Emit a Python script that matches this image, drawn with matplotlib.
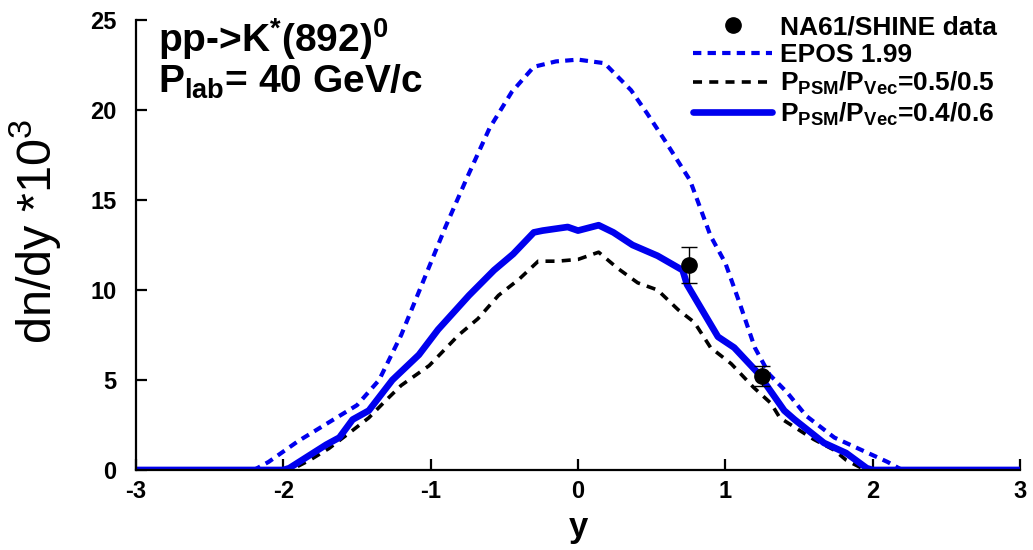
import matplotlib
matplotlib.use('Agg')
import matplotlib.pyplot as plt
from matplotlib.lines import Line2D

plt.rcParams['font.family'] = ['Liberation Sans', 'DejaVu Sans']
plt.rcParams['mathtext.fontset'] = 'custom'
plt.rcParams['mathtext.rm'] = 'Liberation Sans'
plt.rcParams['mathtext.bf'] = 'Liberation Sans:bold'
plt.rcParams['mathtext.it'] = 'Liberation Sans:italic'
plt.rcParams['axes.unicode_minus'] = False

# EPOS 1.99
epos_x = [-3.0, -2.2, -2.1, -1.9, -1.7, -1.5, -1.35, -1.2, -1.05, -0.9, -0.75, -0.6, -0.45,
          -0.3, -0.15, 0.0, 0.18, 0.36, 0.47, 0.59, 0.76, 0.9, 1.0, 1.1, 1.2, 1.3, 1.42,
          1.55, 1.74, 1.9, 2.1, 2.2, 3.0]
epos_y = [0.0, 0.0, 0.45, 1.6, 2.6, 3.6, 5.0, 7.5, 10.5, 13.5, 16.3, 19.0, 21.0,
          22.4, 22.7, 22.8, 22.6, 21.1, 19.8, 18.3, 16.1, 13.0, 11.5, 9.2, 6.8, 5.3, 4.3,
          3.0, 1.8, 1.2, 0.45, 0.0, 0.0]

# P_PSM/P_Vec = 0.5/0.5
psm55_x = [-3.0, -1.95, -1.82, -1.69, -1.53, -1.42, -1.3, -1.2, -1.01, -0.81, -0.68, -0.54,
           -0.4, -0.27, -0.14, 0.0, 0.14, 0.27, 0.405, 0.54, 0.68, 0.79, 0.9, 1.04, 1.19,
           1.31, 1.37, 1.6, 1.74, 1.82, 1.95, 3.0]
psm55_y = [0.0, 0.0, 0.55, 1.2, 2.2, 2.9, 3.9, 4.7, 5.8, 7.5, 8.4, 9.7,
           10.6, 11.6, 11.6, 11.7, 12.1, 11.2, 10.4, 10.0, 8.9, 8.2, 6.8, 5.9, 4.6,
           3.7, 2.9, 1.7, 1.1, 0.55, 0.0, 0.0]

# P_PSM/P_Vec = 0.4/0.6
psm46_x = [-3.0, -2.0, -1.96, -1.71, -1.62, -1.53, -1.42, -1.26, -1.08, -0.95, -0.74, -0.57,
           -0.44, -0.3, -0.24, -0.07, 0.0, 0.14, 0.24, 0.37, 0.54, 0.71, 0.74, 0.95, 1.06,
           1.22, 1.4, 1.47, 1.67, 1.82, 1.96, 2.0, 3.0]
psm46_y = [0.0, 0.0, 0.1, 1.4, 1.8, 2.8, 3.3, 5.0, 6.4, 7.8, 9.7, 11.1,
           12.0, 13.2, 13.3, 13.5, 13.3, 13.6, 13.2, 12.5, 11.9, 11.1, 10.3, 7.4, 6.8,
           5.4, 3.3, 2.8, 1.5, 0.94, 0.1, 0.0, 0.0]

# NA61/SHINE data
data_x = [0.75, 1.25]
data_y = [11.4, 5.2]
data_err = [1.0, 0.55]

fig = plt.figure(figsize=(10.33, 5.5), dpi=100)
ax = fig.add_axes([0.1317, 0.1455, 0.8557, 0.8181])

l_epos, = ax.plot(epos_x, epos_y, color='#0000ee', lw=3.0, dashes=(2.0, 1.5))
l_55, = ax.plot(psm55_x, psm55_y, color='black', lw=2.6, dashes=(2.5, 2.0))
l_46, = ax.plot(psm46_x, psm46_y, color='#0000ee', lw=4.8, solid_capstyle='round')
ax.errorbar(data_x, data_y, yerr=data_err, fmt='o', color='black', ms=11,
            elinewidth=1.0, capsize=6, capthick=1.0, zorder=5)

ax.set_xlim(-3, 3)
ax.set_ylim(0, 25)
ax.set_xticks([-3, -2, -1, 0, 1, 2, 3])
ax.set_yticks([0, 5, 10, 15, 20, 25])
for s in ['top', 'right']:
    ax.spines[s].set_visible(False)
for s in ['left', 'bottom']:
    ax.spines[s].set_linewidth(1.6)
ax.tick_params(direction='in', length=8, width=1.6, labelsize=17)
ax.tick_params(axis='x', pad=7)
ax.tick_params(axis='y', pad=14)
for lab in ax.get_xticklabels() + ax.get_yticklabels():
    lab.set_fontweight('bold')

ax.set_xlabel('y', fontsize=25, fontweight='bold', labelpad=6)
ax.set_ylabel(r'dn/dy *10$^3$', fontsize=35)
ax.yaxis.set_label_coords(-0.083, 0.53)

fig.text(0.153, 0.905, r'pp->K$^{\mathbf{*}}$(892)$^{\mathbf{0}}$', fontsize=28,
         fontweight='bold')
fig.text(0.153, 0.832, r'P$_{\mathbf{lab}}$= 40 GeV/c', fontsize=28, fontweight='bold')

pt_handle = Line2D([], [], ls='none', marker='o', color='black', ms=11)
handles = [pt_handle, l_epos, l_55, l_46]
labels = ['NA61/SHINE data', 'EPOS 1.99',
          r'$\mathbf{P_{PSM}/P_{Vec}}$=0.5/0.5',
          r'$\mathbf{P_{PSM}/P_{Vec}}$=0.4/0.6']
fig.legend(handles, labels, loc='upper left', bbox_to_anchor=(0.653, 1.005),
           frameon=False, handlelength=3.0, handletextpad=0.3, labelspacing=0.12,
           borderpad=0.2, prop={'size': 19, 'weight': 'bold'})

fig.savefig('out.png', dpi=100)
